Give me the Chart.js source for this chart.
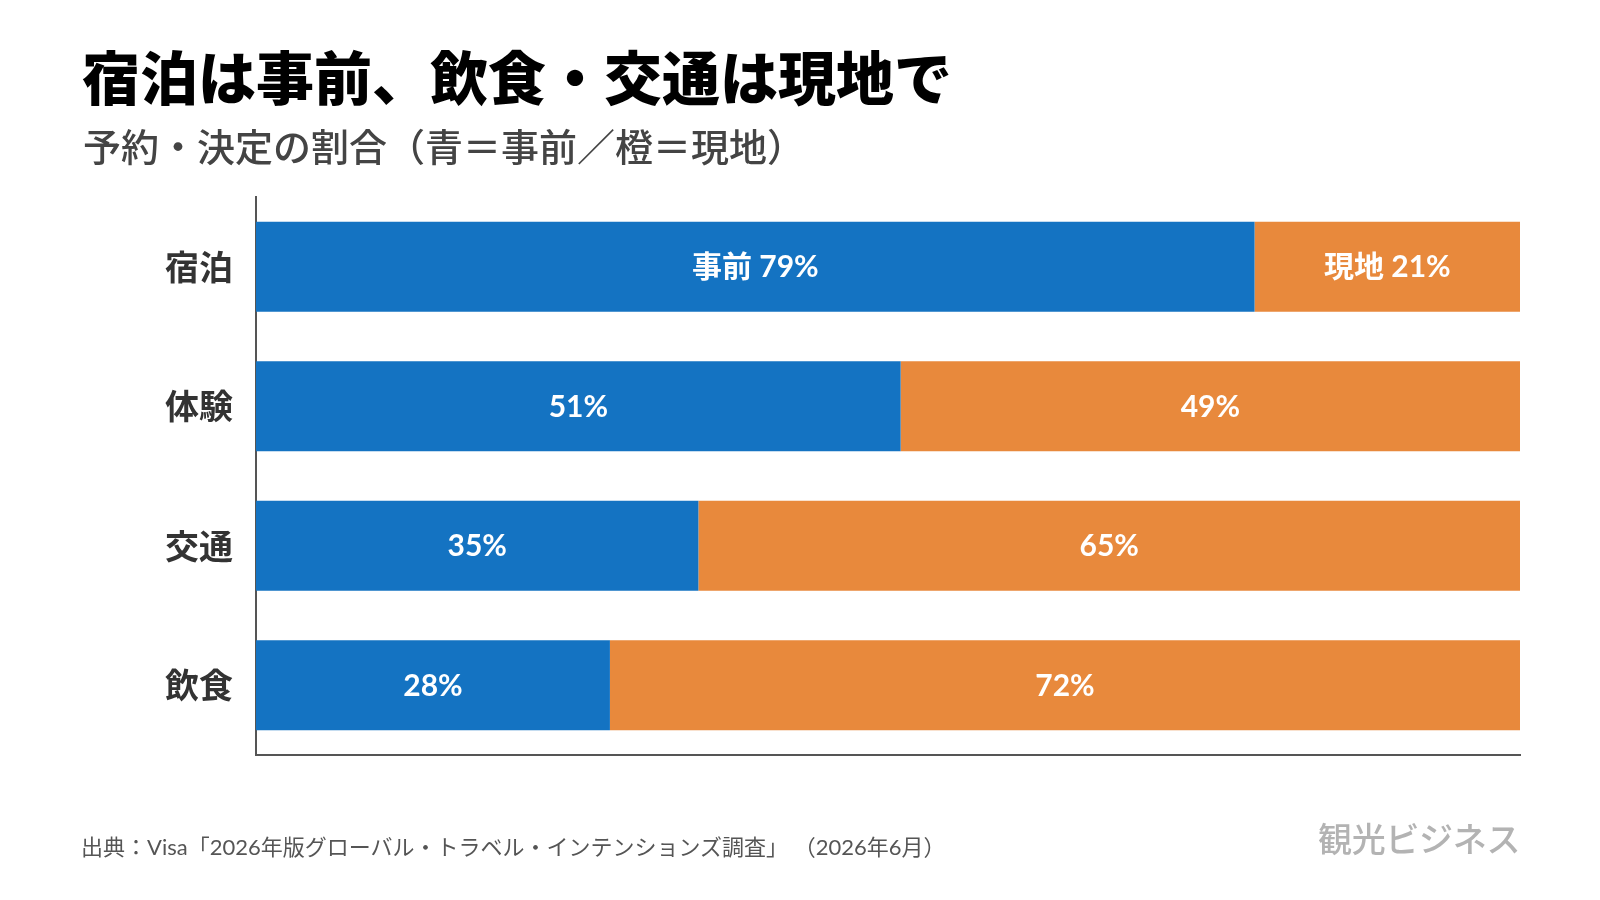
<!DOCTYPE html>
<html lang="ja">
<head>
<meta charset="utf-8">
<script src="https://cdn.jsdelivr.net/npm/chart.js@4"></script>
<style>
  body { margin: 0; width: 1600px; height: 900px; background: #fff; overflow: hidden; }
  #wrap { position: relative; width: 1600px; height: 900px; }
  canvas { position: absolute; left: 0; top: 0; }
  .txt { position: absolute; white-space: nowrap; font-family: "Noto Sans CJK JP", sans-serif; }
  #title { left: 82px; top: 37px; font-size: 58px; font-weight: 900; color: #000; line-height: 76px; }
  #sub { left: 83px; top: 121px; font-size: 38px; font-weight: 500; color: #444; line-height: 48px; }
  #source { left: 81px; top: 832px; font-size: 22px; color: #555; line-height: 30px; font-family: Lato, "Noto Sans CJK JP", sans-serif; }
  #logo { left: 1318px; top: 816px; font-size: 34px; font-weight: 500; color: #b3b3b3; line-height: 44px; letter-spacing: -0.3px; }
</style>
</head>
<body>
<div id="wrap">
  <canvas id="myChart" width="1600" height="900"></canvas>
  <div class="txt" id="title">宿泊は事前、飲食・交通は現地で</div>
  <div class="txt" id="sub">予約・決定の割合（青＝事前／橙＝現地）</div>
  <div class="txt" id="source">出典：Visa「2026年版グローバル・トラベル・インテンションズ調査」 （2026年6月）</div>
  <div class="txt" id="logo">観光ビジネス</div>
</div>
<script>
const categories = ["宿泊", "体験", "交通", "飲食"];
const advance = [79, 51, 35, 28];   // 事前
const local = [21, 49, 65, 72];     // 現地
const advanceLabels = ["事前 79%", "51%", "35%", "28%"];
const localLabels = ["現地 21%", "49%", "65%", "72%"];

// 棒の中央に値を書く
const barLabels = {
  id: "barLabels",
  afterDatasetsDraw(chart) {
    const ctx = chart.ctx;
    ctx.save();
    ctx.fillStyle = "#fff";
    ctx.font = "bold 30px Lato, 'Noto Sans CJK JP', sans-serif";
    ctx.textAlign = "center";
    ctx.textBaseline = "middle";
    const texts = [advanceLabels, localLabels];
    chart.data.datasets.forEach((ds, i) => {
      chart.getDatasetMeta(i).data.forEach((bar, j) => {
        const p = bar.getProps(["x", "y", "base"], true);
        ctx.fillText(texts[i][j], (p.x + p.base) / 2, p.y + 1);
      });
    });
    ctx.restore();
  },
};

new Chart(document.getElementById("myChart"), {
  type: "bar",
  data: {
    labels: categories,
    datasets: [
      { label: "事前", data: advance, backgroundColor: "#1473c2" },
      { label: "現地", data: local, backgroundColor: "#e8893c" },
    ],
  },
  options: {
    indexAxis: "y",
    responsive: false,
    animation: false,
    layout: { padding: { top: 197, bottom: 145, right: 80, left: 0 } },
    datasets: { bar: { categoryPercentage: 1, barPercentage: 0.645 } },
    scales: {
      x: {
        stacked: true,
        min: 0,
        max: 100,
        grid: { display: false },
        ticks: { display: false },
        border: { display: true, color: "#555", width: 2 },
        afterFit(scale) { scale.height = 0; },
      },
      y: {
        stacked: true,
        grid: { display: false },
        border: { display: true, color: "#555", width: 2 },
        ticks: {
          color: "#333",
          padding: 15,
          font: { family: "'Noto Sans CJK JP', sans-serif", size: 34, weight: "bold" },
        },
        afterFit(scale) { scale.width = 256; },
      },
    },
    plugins: {
      legend: { display: false },
      tooltip: { enabled: false },
    },
  },
  plugins: [barLabels],
});
</script>
</body>
</html>
